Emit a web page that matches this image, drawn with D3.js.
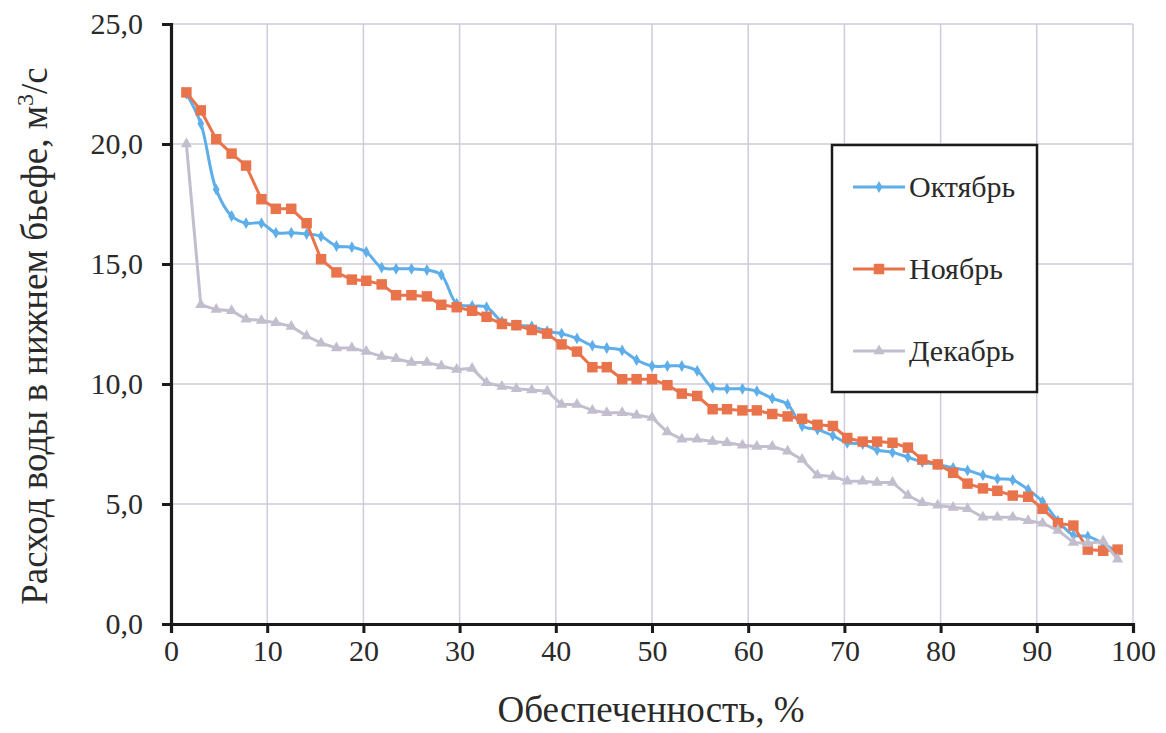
<!DOCTYPE html>
<html>
<head>
<meta charset="utf-8">
<script src="https://cdn.jsdelivr.net/npm/d3@7"></script>
<style>
  body { margin: 0; background: #fff; }
  svg { display: block; }
  text { font-family: "Liberation Serif", "Times New Roman", Times, serif; }
</style>
</head>
<body>
<svg id="chart" width="1166" height="733"></svg>
<script>
// обеспеченность, % (63 точки)
const prob = [1.6, 3.1, 4.7, 6.3, 7.8, 9.4, 10.9, 12.5, 14.1, 15.6, 17.2, 18.8, 20.3, 21.9, 23.4, 25.0,
  26.6, 28.1, 29.7, 31.3, 32.8, 34.4, 35.9, 37.5, 39.1, 40.6, 42.2, 43.8, 45.3, 46.9, 48.4, 50.0,
  51.6, 53.1, 54.7, 56.3, 57.8, 59.4, 60.9, 62.5, 64.1, 65.6, 67.2, 68.8, 70.3, 71.9, 73.4, 75.0,
  76.6, 78.1, 79.7, 81.3, 82.8, 84.4, 85.9, 87.5, 89.1, 90.6, 92.2, 93.8, 95.3, 96.9, 98.4];

const october = [22.1, 20.85, 18.1, 17.0, 16.7, 16.7, 16.3, 16.3, 16.25, 16.15, 15.75, 15.7, 15.5, 14.85, 14.8, 14.8,
  14.75, 14.55, 13.35, 13.25, 13.2, 12.6, 12.45, 12.4, 12.2, 12.1, 11.9, 11.6, 11.5, 11.4, 11.0, 10.75,
  10.75, 10.75, 10.55, 9.85, 9.8, 9.8, 9.7, 9.4, 9.15, 8.25, 8.1, 7.85, 7.55, 7.5, 7.25, 7.15,
  6.95, 6.75, 6.65, 6.5, 6.4, 6.2, 6.05, 6.0, 5.6, 5.1, 4.3, 3.7, 3.65, 3.35, 3.0];

const november = [22.15, 21.4, 20.2, 19.6, 19.1, 17.7, 17.3, 17.3, 16.7, 15.2, 14.65, 14.35, 14.3, 14.15, 13.7, 13.7,
  13.65, 13.3, 13.2, 13.05, 12.8, 12.5, 12.45, 12.25, 12.1, 11.65, 11.35, 10.7, 10.7, 10.2, 10.2, 10.2,
  9.95, 9.6, 9.5, 8.95, 8.95, 8.9, 8.9, 8.75, 8.65, 8.55, 8.3, 8.25, 7.75, 7.6, 7.6, 7.55,
  7.35, 6.85, 6.65, 6.3, 5.85, 5.65, 5.55, 5.35, 5.3, 4.8, 4.2, 4.1, 3.1, 3.05, 3.1];

const december = [20.0, 13.3, 13.1, 13.05, 12.7, 12.65, 12.55, 12.4, 12.0, 11.7, 11.5, 11.5, 11.35, 11.15, 11.05, 10.9,
  10.9, 10.75, 10.6, 10.65, 10.05, 9.9, 9.8, 9.75, 9.7, 9.15, 9.15, 8.9, 8.8, 8.8, 8.7, 8.6,
  8.0, 7.7, 7.7, 7.6, 7.55, 7.45, 7.4, 7.4, 7.2, 6.85, 6.2, 6.15, 5.95, 5.95, 5.9, 5.9,
  5.35, 5.05, 4.95, 4.85, 4.8, 4.45, 4.45, 4.45, 4.3, 4.2, 3.9, 3.4, 3.35, 3.45, 2.7];

const xTicks = [0, 10, 20, 30, 40, 50, 60, 70, 80, 90, 100];
const yTicks = [0, 5, 10, 15, 20, 25];

const series = [
  { name: 'Октябрь', values: october, color: '#5eaeea', symbol: d3.symbolDiamond, size: 40, smooth: true },
  { name: 'Ноябрь', values: november, color: '#e9744c', symbol: d3.symbolSquare, size: 110, smooth: false },
  { name: 'Декабрь', values: december, color: '#c2bece', symbol: d3.symbolTriangle, size: 55, smooth: false }
];

const svg = d3.select('#chart');
const plot = { left: 171, right: 1133, top: 24, bottom: 624 };

const x = d3.scaleLinear().domain([0, 100]).range([plot.left, plot.right]);
const y = d3.scaleLinear().domain([0, 25]).range([plot.bottom, plot.top]);

const fmt = v => d3.format('.1f')(v).replace('.', ',');

// сетка
svg.append('g').selectAll('line').data(xTicks.slice(1)).join('line')
  .attr('x1', d => x(d)).attr('x2', d => x(d))
  .attr('y1', plot.top).attr('y2', plot.bottom)
  .attr('stroke', '#cfcbdd').attr('stroke-width', 1.5);
svg.append('g').selectAll('line').data(yTicks.slice(1)).join('line')
  .attr('x1', plot.left).attr('x2', plot.right)
  .attr('y1', d => y(d)).attr('y2', d => y(d))
  .attr('stroke', '#cfcbdd').attr('stroke-width', 1.5);

// оси
const xAxis = svg.append('g')
  .attr('transform', `translate(0,${plot.bottom})`)
  .call(d3.axisBottom(x).tickValues(xTicks).tickSize(9).tickPadding(7).tickFormat(d3.format('d')));
const yAxis = svg.append('g')
  .attr('transform', `translate(${plot.left},0)`)
  .call(d3.axisLeft(y).tickValues(yTicks).tickSize(9).tickPadding(19).tickFormat(fmt));

[xAxis, yAxis].forEach(g => {
  g.attr('font-family', null).attr('font-size', null);
  g.select('.domain').attr('stroke', '#1a1a1a').attr('stroke-width', 3.2);
  g.selectAll('.tick line').attr('stroke', '#1a1a1a').attr('stroke-width', 3);
  g.selectAll('.tick text')
    .attr('fill', '#2a2a2a')
    .style('font-size', '30px');
});

// линии
series.forEach(s => {
  const pts = s.values.map((v, i) => [prob[i], v]);
  const line = d3.line()
    .x(d => x(d[0])).y(d => y(d[1]))
    .curve(s.smooth ? d3.curveCatmullRom.alpha(0.5) : d3.curveLinear);

  svg.append('path')
    .datum(pts)
    .attr('d', line)
    .attr('fill', 'none')
    .attr('stroke', s.color)
    .attr('stroke-width', 3);

  svg.append('g').selectAll('path').data(pts).join('path')
    .attr('transform', d => `translate(${x(d[0])},${y(d[1])})`)
    .attr('d', d3.symbol().type(s.symbol).size(s.size))
    .attr('fill', s.color);
});

// легенда
const legend = svg.append('g');
legend.append('rect')
  .attr('x', 832).attr('y', 145).attr('width', 205).attr('height', 247)
  .attr('fill', '#fff').attr('stroke', '#1a1a1a').attr('stroke-width', 2.5);

series.forEach((s, i) => {
  const ly = 187 + i * 82;
  legend.append('line')
    .attr('x1', 853).attr('x2', 905).attr('y1', ly).attr('y2', ly)
    .attr('stroke', s.color).attr('stroke-width', 3);
  legend.append('path')
    .attr('transform', `translate(879,${ly})`)
    .attr('d', d3.symbol().type(s.symbol).size(s.size))
    .attr('fill', s.color);
  legend.append('text')
    .attr('x', 909).attr('y', ly + 10)
    .attr('fill', '#2a2a2a')
    .style('font-size', '30px')
    .text(s.name);
});

// подписи осей
svg.append('text')
  .attr('x', 651).attr('y', 722)
  .attr('text-anchor', 'middle')
  .attr('fill', '#2a2a2a')
  .style('font-size', '37px')
  .text('Обеспеченность, %');

const yTitle = svg.append('text')
  .attr('transform', `translate(47,${(plot.top + plot.bottom) / 2 + 12}) rotate(-90)`)
  .attr('text-anchor', 'middle')
  .attr('fill', '#2a2a2a')
  .style('font-size', '37px');
yTitle.append('tspan').text('Расход воды в нижнем бьефе, м');
yTitle.append('tspan').attr('dy', -14).style('font-size', '24px').text('3');
yTitle.append('tspan').attr('dy', 14).text('/с');
</script>
</body>
</html>
